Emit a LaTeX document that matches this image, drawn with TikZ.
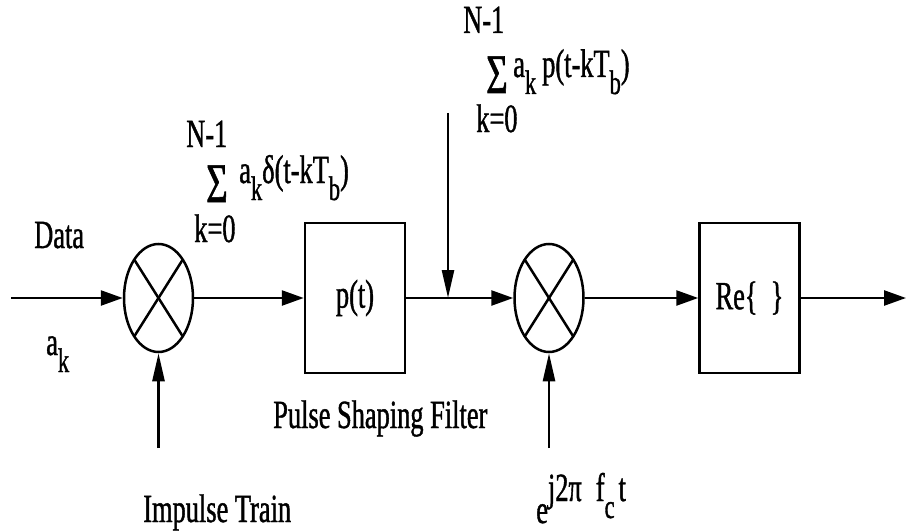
\documentclass[tikz,border=0pt]{standalone}
\usepackage{fontspec}
\setmainfont{Liberation Serif}[FakeStretch=0.66, FakeBold=1]
\usetikzlibrary{shapes.geometric, arrows.meta, positioning}

\newcommand\lblsize{\fontsize{40}{44}\selectfont}
\newcommand\subtxt[1]{\raisebox{-17pt}{\fontsize{34}{36}\selectfont #1}}
\newcommand\bigsig{{\fontsize{56}{60}\selectfont Σ}}

\begin{document}
\begin{tikzpicture}[x=1pt, y=-1pt,
    line width=2.5pt,
    txt/.style={inner sep=0pt, anchor=base west, font=\lblsize},
    mixer/.style={ellipse, draw, minimum width=69pt, minimum height=108pt, inner sep=0pt,
        path picture={
          \draw ([shift={(-24pt,38pt)}]path picture bounding box.center)
             -- ([shift={(24pt,-38pt)}]path picture bounding box.center);
          \draw ([shift={(24pt,38pt)}]path picture bounding box.center)
             -- ([shift={(-24pt,-38pt)}]path picture bounding box.center);}},
    block/.style={rectangle, draw, minimum width=100pt, minimum height=150pt,
                  inner sep=0pt, font=\lblsize},
    harrow/.style={-{Triangle[length=22pt,width=15pt]}},
    varrow/.style={-{Triangle[length=28pt,width=12pt]}}]
\useasboundingbox (0,0) rectangle (907,532);

% main chain
\node[mixer] (mixA) at (158.5,298) {};
\node[block] (pulse) at (355,298) {p(t)};
\node[mixer] (mixB) at (549,298) {};
\node[block] (real) at (749.5,298) {Re\{~~\}};

\coordinate (datain) at (11,298);
\coordinate (dataout) at (906,298);
\coordinate (impin) at (158.5,448);
\coordinate (carin) at (549,448);
\coordinate (tapin) at (448,113);
\coordinate (tap) at (448,298);

\draw[harrow] (datain) -- (mixA);
\draw[harrow] (mixA) -- (pulse);
\draw[harrow] (pulse) -- (mixB);
\draw[harrow] (mixB) -- (real);
\draw[harrow] (real) -- (dataout);
\draw[varrow] (impin) -- (mixA);
\draw[varrow] (carin) -- (mixB);
\draw[varrow] (tapin) -- (tap);

% labels
\node[txt] (data) at (33,248) {Data};
\node[txt] (datasym) at (45,355) {a\subtxt{k}};

\node[txt] (sumAtop) at (185,147) {N-1};
\node[txt] (sumAsig) at (205,202) {\bigsig};
\node[txt] (sumAterm) at (238,183) {a\subtxt{k}δ(t-kT\subtxt{b})};
\node[txt] (sumAbot) at (193,242) {k=0};

\node[txt] (sumBtop) at (462,33) {N-1};
\node[txt] (sumBsig) at (485,93) {\bigsig};
\node[txt] (sumBterm) at (512,77) {a\subtxt{k}\hspace{6pt}p(t-kT\subtxt{b})};
\node[txt] (sumBbot) at (475,132) {k=0};

\node[txt] (filtlbl) at (272,428) {Pulse Shaping Filter};
\node[txt] (implbl) at (142,522) {Impulse Train};
\node[txt] (carlbl) at (535,523) {e\raisebox{22pt}{j2π\hspace{14pt}f\subtxt{c}\hspace{4pt}t}};
\end{tikzpicture}
\end{document}
